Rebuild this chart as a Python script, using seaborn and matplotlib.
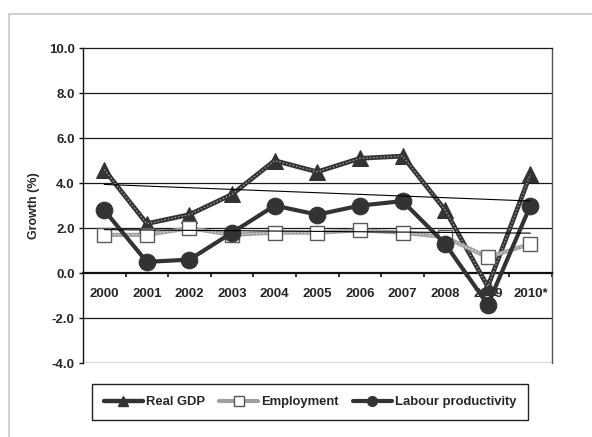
import numpy as np
import pandas as pd
import matplotlib
matplotlib.use("Agg")
import matplotlib.pyplot as plt
from matplotlib.patches import Rectangle
import seaborn as sns

years = ["2000", "2001", "2002", "2003", "2004", "2005",
         "2006", "2007", "2008", "2009", "2010*"]
real_gdp = [4.6, 2.2, 2.6, 3.5, 5.0, 4.5, 5.1, 5.2, 2.8, -0.6, 4.4]
employment = [1.7, 1.7, 2.0, 1.7, 1.8, 1.8, 1.9, 1.8, 1.6, 0.7, 1.3]
productivity = [2.8, 0.5, 0.6, 1.8, 3.0, 2.6, 3.0, 3.2, 1.3, -1.4, 3.0]

df = pd.DataFrame({"year": years, "gdp": real_gdp,
                   "emp": employment, "prod": productivity})
pos = np.arange(len(years))

sns.set_theme(style="white")
plt.rcParams['font.family'] = ['Liberation Sans', 'DejaVu Sans']
plt.rcParams['font.weight'] = 'bold'

fig = plt.figure(figsize=(5.92, 4.37), dpi=100)
ax = fig.add_axes([0.140, 0.169, 0.792, 0.721])

# outer light frame (only top and left edges show)
fig.patches.append(Rectangle((9 / 592, -0.1), 1.0, 1.1 - 14 / 437, transform=fig.transFigure,
                             fill=False, edgecolor="#c8c8c8", linewidth=1.2))

# gridlines
for g in [-2, 2, 4, 6, 8]:
    ax.axhline(g, color="#1a1a1a", linewidth=0.9, zorder=1)
ax.axhline(-4, color="#333333", linewidth=1.0, zorder=1)

# Real GDP: dark patterned line
sns.lineplot(data=df, x=pos, y="gdp", ax=ax, color="#333333", linewidth=3.4,
             marker="^", markersize=11, markeredgecolor="#333333", zorder=3)
ax.plot(pos, real_gdp, color="#9a9a9a", linewidth=1.0, linestyle=(0, (1, 1.5)), zorder=3.1)

# Employment: light patterned line with white squares
sns.lineplot(data=df, x=pos, y="emp", ax=ax, color="#a0a0a0", linewidth=3.0, zorder=4)
ax.plot(pos, employment, color="#d8d8d8", linewidth=1.0, linestyle=(0, (1, 1.5)), zorder=4.1)
ax.plot(pos, employment, linestyle="none", marker="s", markersize=10.5,
        markerfacecolor="white", markeredgecolor="#5a5a5a", markeredgewidth=1.0, zorder=4.2)

# Labour productivity: solid dark line with circles
sns.lineplot(data=df, x=pos, y="prod", ax=ax, color="#333333", linewidth=3.0,
             marker="o", markersize=12, markeredgecolor="#333333", zorder=5)

# linear trends
for series in [real_gdp, productivity]:
    k, b = np.polyfit(pos, series, 1)
    ax.plot(pos, k * pos + b, color="black", linewidth=0.8, zorder=6)

ax.set_xlim(-0.5, len(years) - 0.5)
ax.set_ylim(-4, 10)
ax.set_yticks(np.arange(-4, 10.1, 2))
ax.set_yticklabels([f"{v:.1f}" for v in np.arange(-4, 10.1, 2)])
ax.set_xticks(pos)
ax.set_xticklabels(years)
ax.set_xticks(np.arange(0.5, len(years), 1), minor=True)

ax.spines['bottom'].set_position(('data', 0))
ax.spines['bottom'].set_linewidth(1.6)
ax.spines['bottom'].set_color("#111111")
ax.spines['left'].set_color("#111111")
ax.spines['left'].set_linewidth(1.0)
ax.spines['top'].set_color("#1a1a1a")
ax.spines['top'].set_linewidth(0.9)
ax.spines['right'].set_color("#555555")
ax.spines['right'].set_linewidth(1.0)

ax.tick_params(axis='x', which='major', length=0, pad=11, labelsize=9.5)
ax.tick_params(axis='x', which='minor', bottom=True, length=3, width=1.2, color="#111111",
               direction='out')
ax.tick_params(axis='y', left=True, length=3, width=1.0, color="#111111",
               direction='out', labelsize=9.5, pad=3)
for t in ax.get_xticklabels() + ax.get_yticklabels():
    t.set_fontweight('bold')

ax.set_xlabel("")
ax.set_ylabel("Growth (%)", fontsize=9, fontweight='bold', labelpad=6)

h_gdp = plt.Line2D([], [], color="#333333", linewidth=3.2, marker="^", markersize=7)
h_emp = plt.Line2D([], [], color="#a0a0a0", linewidth=3.0, marker="s", markersize=7,
                   markerfacecolor="white", markeredgecolor="#555555")
h_prod = plt.Line2D([], [], color="#333333", linewidth=3.0, marker="o", markersize=7)
leg = fig.legend([h_gdp, h_emp, h_prod], ["Real GDP", "Employment", "Labour productivity"],
                 loc="center", bbox_to_anchor=(310 / 592, 1 - 402 / 437), ncol=3,
                 frameon=True, fancybox=False, framealpha=1, edgecolor="#222222",
                 prop={'weight': 'bold', 'size': 9.4}, handlelength=3.0, handletextpad=0.2,
                 columnspacing=1.1, borderpad=0.9)
leg.get_frame().set_linewidth(1.0)

fig.savefig("out.png", dpi=100)
